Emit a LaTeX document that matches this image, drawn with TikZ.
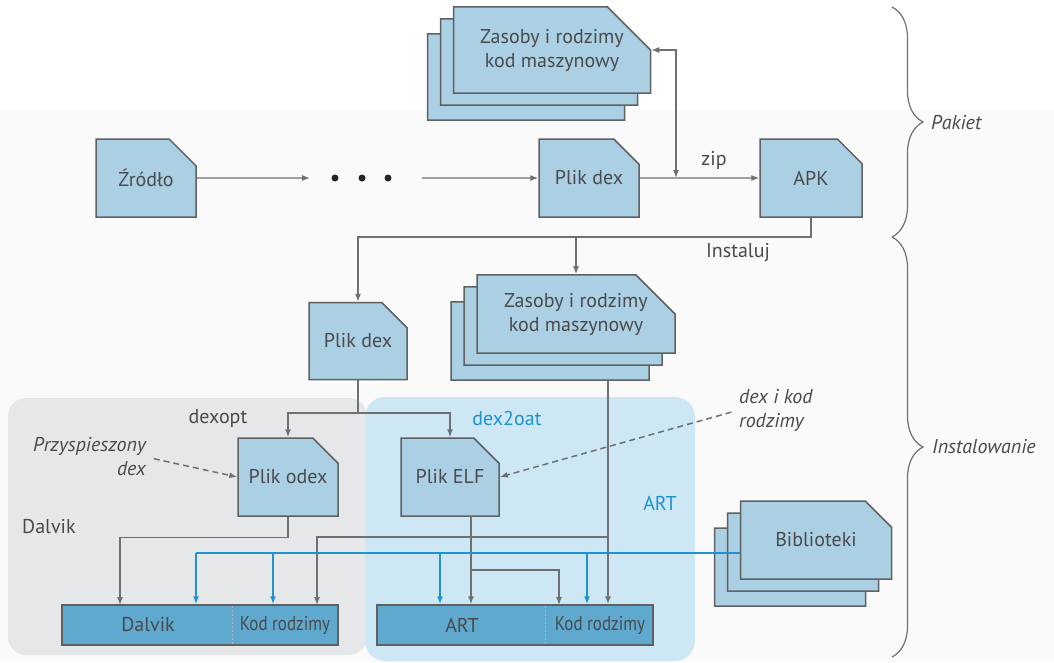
\documentclass[tikz,border=0pt]{standalone}
\usepackage{fontspec}
\setmainfont{PT Sans}
\newfontfamily\waski[FakeStretch=0.85]{PT Sans}
\usetikzlibrary{shapes.misc,shadows,arrows.meta,decorations.pathreplacing}

\definecolor{plikfill}{HTML}{ABD0E3}
\definecolor{plikline}{HTML}{5F6062}
\definecolor{pasekfill}{HTML}{5FA8CE}
\definecolor{artbg}{HTML}{CDE7F4}
\definecolor{dalvikbg}{HTML}{E6E7E8}
\definecolor{liniakolor}{HTML}{6F7072}
\definecolor{niebieski}{HTML}{1E93CD}
\definecolor{tekst}{HTML}{4A4A4C}

\tikzset{
  plik/.style={chamfered rectangle, chamfered rectangle corners=north east,
    chamfered rectangle xsep=20pt, chamfered rectangle ysep=18pt,
    fill=plikfill, draw=plikline, line width=1.5pt, inner sep=0pt,
    minimum width=100pt, minimum height=78pt, text=tekst, align=center,
    font=\fontsize{20}{24}\selectfont},
  stos/.style={plik,
    copy shadow={shadow xshift=-26pt, shadow yshift=-27pt, fill=plikfill, draw=plikline},
    copy shadow={shadow xshift=-13pt, shadow yshift=-12pt, fill=plikfill, draw=plikline}},
  pasek/.style={rectangle, fill=pasekfill, draw=plikline, line width=1.5pt,
    minimum width=276pt, minimum height=40pt, inner sep=0pt},
  napis/.style={text=tekst, font=\fontsize{20}{24}\selectfont, inner sep=0pt},
  kursywa/.style={napis, font=\fontsize{20}{24}\selectfont\itshape},
  waskinapis/.style={text=tekst, font=\fontsize{20}{24}\waski, inner sep=0pt},
  polaczenie/.style={draw=liniakolor, line width=1.2pt},
  przerywana/.style={draw=liniakolor, line width=1.5pt, dash pattern=on 6pt off 4pt, shorten <=8pt},
  biblinia/.style={draw=niebieski, line width=1.5pt},
  podzial/.style={draw=black!30, line width=1pt, dash pattern=on 2pt off 2pt},
  klamra/.style={draw=liniakolor, line width=1.2pt, decorate, decoration={brace, amplitude=31pt}}
}

\begin{document}
\begin{tikzpicture}[x=1pt,y=-1pt,>={Latex[length=8pt,width=6pt]}]
\useasboundingbox (0,0) rectangle (1054,662);
\fill[black!2] (0,110) rectangle (1054,662);

% obszary Dalvik i ART
\fill[dalvikbg,rounded corners=18pt] (8,398) rectangle (367,655);
\fill[artbg,rounded corners=20pt] (365,397) rectangle (695,661);

% pakiet
\node[stos,minimum width=197pt,minimum height=79pt,chamfered rectangle xsep=28pt,chamfered rectangle ysep=22pt] (zasoby) at (552,50) {Zasoby i rodzimy\\kod maszynowy};
\node[plik] (zrodlo) at (146,178) {Źródło};
\node[plik] (dex) at (589,178) {Plik dex};
\node[plik,minimum width=102pt] (apk) at (811,178) {APK};
\node[napis] (zip) at (714,160) {zip};
\coordinate (kropkiL) at (310,178);
\coordinate (kropkiR) at (422,178);
\coordinate (zipwej) at (676,178);
\foreach \x in {335,362,388} \fill[black!85] (\x,178) circle (3.5pt);

\draw[polaczenie,->] (zrodlo) -- (kropkiL);
\draw[polaczenie,->] (kropkiR) -- (dex);
\draw[polaczenie,->] (dex) -- (apk);
\draw[polaczenie,<->] (zasoby.east) -| (zipwej);

% instalowanie
\node[napis] (instaluj) at (738,253) {Instaluj};
\node[plik,minimum width=98pt,minimum height=77pt] (dex2) at (358,341) {Plik dex};
\node[stos,minimum width=198pt,chamfered rectangle xsep=22pt] (zasoby2) at (576,314) {Zasoby i rodzimy\\kod maszynowy};
\coordinate (rozgal) at (576,237);
\draw[polaczenie,->] (apk.south) |- (rozgal) -- (zasoby2.north);
\draw[polaczenie,->] (rozgal) -| (dex2.north);

% dexopt / dex2oat
\node[plik] (odex) at (288,477) {Plik odex};
\node[plik,minimum width=98pt] (elf) at (450,477) {Plik ELF};
\node[napis] (dexoptnapis) at (218,418) {dexopt};
\node[napis,text=niebieski] (dex2oat) at (507,418) {dex2oat};
\coordinate (dexopt) at (358,413);
\draw[polaczenie] (dex2.south) -- (dexopt);
\draw[polaczenie,->] (dexopt) -| (odex.north);
\draw[polaczenie,->] (dexopt) -| (elf.north);

\node[kursywa,align=right,anchor=east] (przysp) at (146,457) {Przyspieszony\\dex};
\node[kursywa,align=left,anchor=west] (dexkod) at (739,410) {dex i kod\\rodzimy};
\draw[przerywana,->] (przysp.east) -- (odex.west);
\draw[przerywana,->] (dexkod.west) -- (elf.east);

\node[napis,anchor=west] (dalviknapis) at (22,527) {Dalvik};
\node[napis,text=niebieski] (artnapis) at (660,503) {ART};

% paski
\node[pasek] (dalvik) at (200,625) {};
\node[pasek] (art) at (515,625) {};
\draw[podzial] (232,606) -- (232,644);
\draw[podzial] (545,606) -- (545,644);
\node[napis] (dalviktxt) at (148,625) {Dalvik};
\node[waskinapis] (dalkodtxt) at (285,625) {Kod rodzimy};
\node[napis] (arttxt) at (462,625) {ART};
\node[waskinapis] (artkodtxt) at (600,625) {Kod rodzimy};

\coordinate (natywny) at (608,380);
\coordinate (natL) at (608,537);
\coordinate (natD) at (317,605);
\coordinate (dalwej) at (120,605);
\coordinate (elfwyj) at (471,516);
\coordinate (artkodwej) at (559,605);
\draw[polaczenie,->] (natywny) -- (natywny |- art.north);
\draw[polaczenie,->] (natL) -| (natD);
\draw[polaczenie,->] (odex.south) -- ++(0,21) -| (dalwej);
\draw[polaczenie,->] (elfwyj) -- (elfwyj |- art.north);
\draw[polaczenie,->] (elfwyj) ++(0,54) -| (artkodwej);

% biblioteki
\node[stos,minimum width=151pt,chamfered rectangle xsep=29pt,chamfered rectangle ysep=19pt] (bib) at (816,540) {Biblioteki};
\coordinate (bibL) at (196,553);
\draw[biblinia] ([yshift=-13pt]bib.west) -- (bibL);
\foreach \x in {196,273,440,587}
  \draw[biblinia,->] (bibL -| \x,0) -- (\x,0 |- dalvik.north);

% klamry
\coordinate (pakietA) at (892,7);
\coordinate (pakietB) at (892,237);
\coordinate (instB) at (892,657);
\draw[klamra] (pakietA) -- (pakietB);
\draw[klamra] (pakietB) -- (instB);
\node[kursywa,anchor=west] (pakiet) at (931,123) {Pakiet};
\node[kursywa,anchor=west] (instalowanie) at (932,447) {Instalowanie};
\end{tikzpicture}
\end{document}
